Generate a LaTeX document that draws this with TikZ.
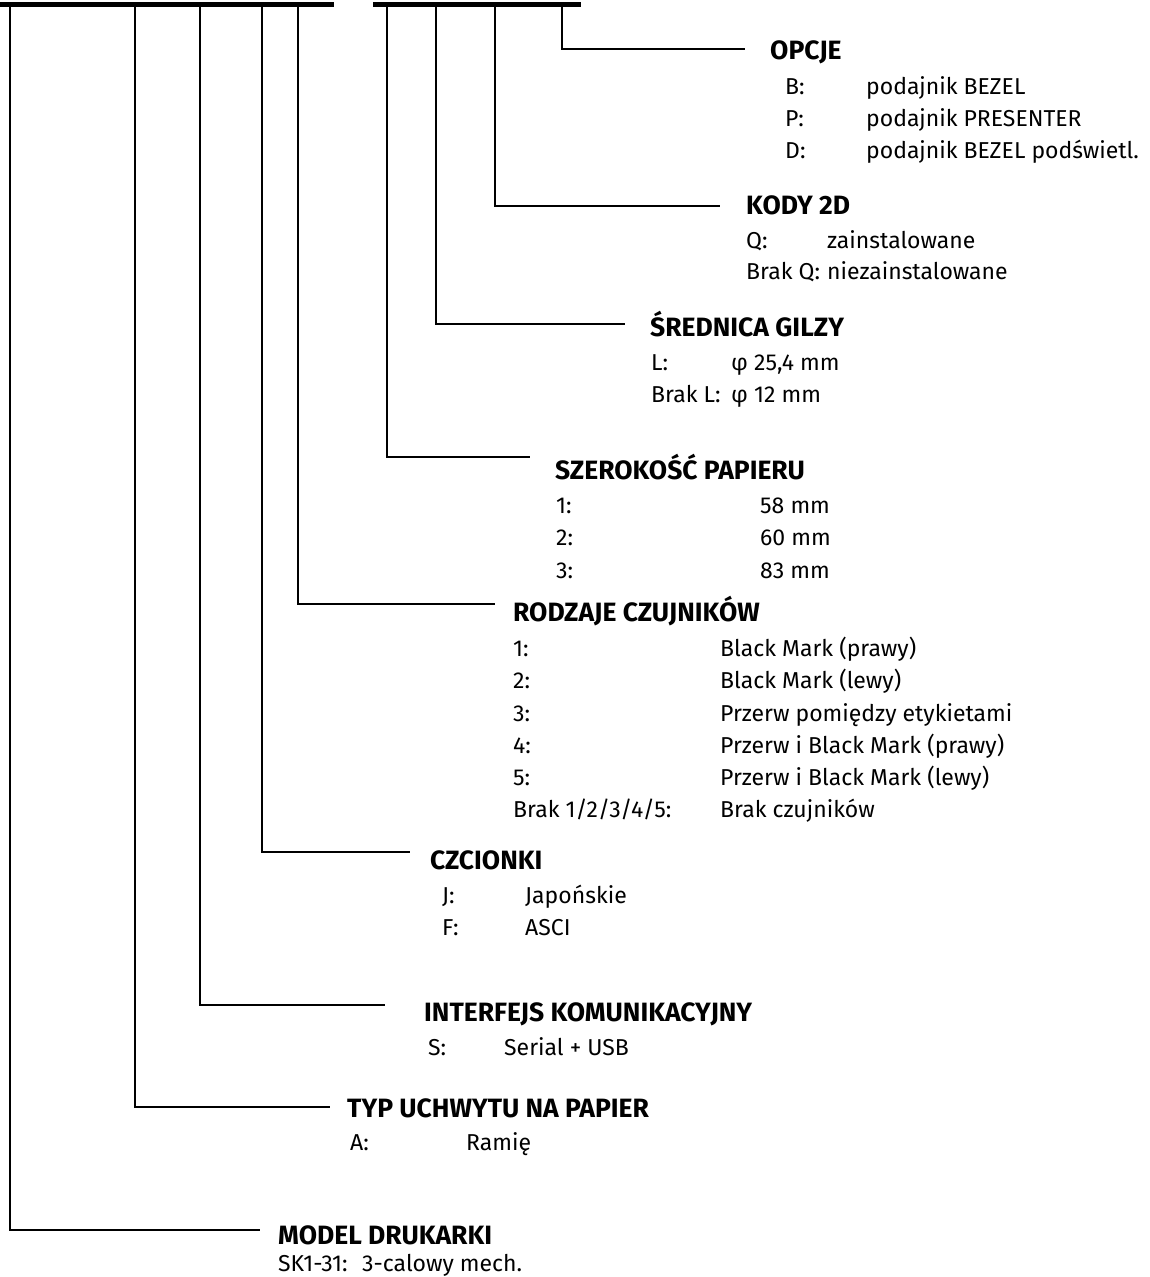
\documentclass[tikz,border=0pt]{standalone}
\usepackage{fontspec}
\setmainfont{Fira Sans}
\usetikzlibrary{positioning}

\tikzset{
  heading/.style={anchor=base west, inner sep=0pt, font=\fontsize{26.5}{26.5}\selectfont\bfseries},
  optkey/.style={anchor=base west, inner sep=0pt, font=\fontsize{23}{23}\selectfont},
  optval/.style={anchor=base west, inner sep=0pt, font=\fontsize{23}{23}\selectfont},
  lead/.style={line width=1.6pt},
}

\begin{document}
\begin{tikzpicture}[x=1pt, y=-1pt]
    \useasboundingbox (0,0) rectangle (1149,1277);

    % code underlines
    \fill (0,2) rectangle (334,7);
    \fill (373,2) rectangle (581,7);

    \coordinate (topmodel) at (10,7);
    \coordinate (toptyp)   at (135,7);
    \coordinate (topint)   at (200,7);
    \coordinate (topczc)   at (262,7);
    \coordinate (toprod)   at (298,7);
    \coordinate (topszer)  at (387,7);
    \coordinate (topgil)   at (436,7);
    \coordinate (topkod)   at (495,7);
    \coordinate (topopc)   at (562,7);

    \coordinate (endopc)   at (745,49);
    \coordinate (endkod)   at (720,206);
    \coordinate (endgil)   at (625,324);
    \coordinate (endszer)  at (530,457);
    \coordinate (endrod)   at (495,604);
    \coordinate (endczc)   at (410,852);
    \coordinate (endint)   at (385,1005);
    \coordinate (endtyp)   at (330,1107);
    \coordinate (endmodel) at (260,1230);

    \draw[lead] (topopc)   |- (endopc);
    \draw[lead] (topkod)   |- (endkod);
    \draw[lead] (topgil)   |- (endgil);
    \draw[lead] (topszer)  |- (endszer);
    \draw[lead] (toprod)   |- (endrod);
    \draw[lead] (topczc)   |- (endczc);
    \draw[lead] (topint)   |- (endint);
    \draw[lead] (toptyp)   |- (endtyp);
    \draw[lead] (topmodel) |- (endmodel);

    % opcje
    \node[heading] (opc) at (770,59) {OPCJE};
    \node[optkey] (opcb) at (785,94)  {B:};
    \node[optval] (opcbv) at (866,94)  {podajnik BEZEL};
    \node[optkey] (opcp) at (785,126) {P:};
    \node[optval] (opcpv) at (866,126) {podajnik PRESENTER};
    \node[optkey] (opcd) at (785,158) {D:};
    \node[optval] (opcdv) at (866,158) {podajnik BEZEL podświetl.};

    % kody 2d
    \node[heading] (kod) at (746,214) {KODY 2D};
    \node[optkey] (kodq) at (746,248) {Q:};
    \node[optval] (kodqv) at (827,248) {zainstalowane};
    \node[optkey] (kodb) at (746,279) {Brak Q:};
    \node[optval] (kodbv) at (827,279) {niezainstalowane};

    % srednica gilzy
    \node[heading] (gil) at (650,336) {ŚREDNICA GILZY};
    \node[optkey] (gill) at (651,370) {L:};
    \node[optval] (gillv) at (731,370) {φ 25,4 mm};
    \node[optkey] (gilb) at (651,402) {Brak L:};
    \node[optval] (gilbv) at (731,402) {φ 12 mm};

    % szerokosc papieru
    \node[heading] (szer) at (555,479) {SZEROKOŚĆ PAPIERU};
    \node[optkey] (szer1) at (556,513) {1:};
    \node[optval] (szer1v) at (760,513) {58 mm};
    \node[optkey] (szer2) at (556,545) {2:};
    \node[optval] (szer2v) at (760,545) {60 mm};
    \node[optkey] (szer3) at (556,578) {3:};
    \node[optval] (szer3v) at (760,578) {83 mm};

    % rodzaje czujnikow
    \node[heading] (rod) at (513,621) {RODZAJE CZUJNIKÓW};
    \node[optkey] (rod1) at (513,656) {1:};
    \node[optval] (rod1v) at (720,656) {Black Mark (prawy)};
    \node[optkey] (rod2) at (513,688) {2:};
    \node[optval] (rod2v) at (720,688) {Black Mark (lewy)};
    \node[optkey] (rod3) at (513,721) {3:};
    \node[optval] (rod3v) at (720,721) {Przerw pomiędzy etykietami};
    \node[optkey] (rod4) at (513,753) {4:};
    \node[optval] (rod4v) at (720,753) {Przerw i Black Mark (prawy)};
    \node[optkey] (rod5) at (513,785) {5:};
    \node[optval] (rod5v) at (720,785) {Przerw i Black Mark (lewy)};
    \node[optkey] (rodb) at (513,817) {Brak 1/2/3/4/5:};
    \node[optval] (rodbv) at (720,817) {Brak czujników};

    % czcionki
    \node[heading] (czc) at (430,869) {CZCIONKI};
    \node[optkey] (czcj) at (442,903) {J:};
    \node[optval] (czcjv) at (525,903) {Japońskie};
    \node[optkey] (czcf) at (442,935) {F:};
    \node[optval] (czcfv) at (525,935) {ASCI};

    % interfejs
    \node[heading] (int) at (424,1021) {INTERFEJS KOMUNIKACYJNY};
    \node[optkey] (ints) at (428,1055) {S:};
    \node[optval] (intsv) at (504,1055) {Serial + USB};

    % typ uchwytu
    \node[heading] (typ) at (347,1117) {TYP UCHWYTU NA PAPIER};
    \node[optkey] (typa) at (350,1150) {A:};
    \node[optval] (typav) at (466,1150) {Ramię};

    % model
    \node[heading] (model) at (278,1244) {MODEL DRUKARKI};
    \node[optkey] (modelsk) at (278,1271) {SK1-31:};
    \node[optval] (modelskv) at (362,1271) {3-calowy mech.};
\end{tikzpicture}
\end{document}
